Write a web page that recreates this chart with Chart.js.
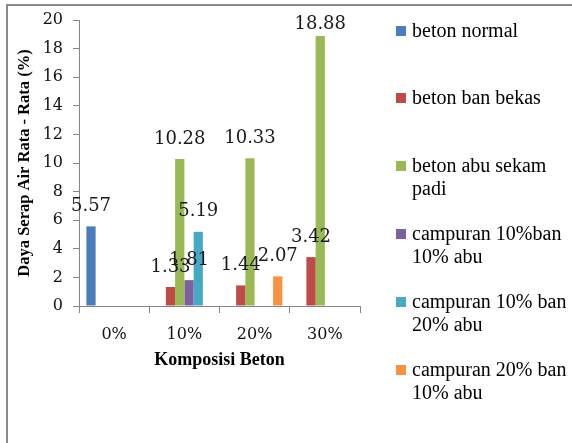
<!DOCTYPE html>
<html>
<head>
<meta charset="utf-8">
<script src="https://cdn.jsdelivr.net/npm/chart.js@4.4.0/dist/chart.umd.min.js"></script>
<style>
  html, body { margin: 0; padding: 0; background: #fff; overflow: hidden; }
  #wrap { position: relative; width: 572px; height: 443px; }
  #myChart { position: absolute; left: 0; top: 0; }
  #frame { position: absolute; left: 6px; top: 4px; width: 700px; height: 600px;
           border: 2px solid #8a8a8a; pointer-events: none; }
  #legend { position: absolute; left: 0; top: 0; width: 572px; height: 443px; }
  .item { position: absolute; left: 396px; font-family: "Liberation Serif", serif;
          font-size: 20px; line-height: 23px; color: #000; white-space: nowrap; }
  .box { position: absolute; left: 0; top: 7px; width: 10px; height: 10px; }
  .txt { position: absolute; left: 16px; top: 0; }
</style>
</head>
<body>
<div id="wrap">
  <canvas id="myChart" width="572" height="443"></canvas>
  <div id="legend"></div>
  <div id="frame"></div>
</div>
<script>
const categories = ['0%', '10%', '20%', '30%'];
const seriesNames = [
  ['beton normal'],
  ['beton ban bekas'],
  ['beton abu sekam', 'padi'],
  ['campuran 10%ban', '10% abu'],
  ['campuran 10% ban', '20% abu'],
  ['campuran 20% ban', '10% abu']
];
const betonNormal = [5.57, null, null, null];
const betonBanBekas = [null, 1.33, 1.44, 3.42];
const betonAbuSekam = [null, 10.28, 10.33, 18.88];
const campuran10Ban10Abu = [null, 1.81, null, null];
const campuran10Ban20Abu = [null, 5.19, null, null];
const campuran20Ban10Abu = [null, null, 2.07, null];
const colors = ['#4a7ebb', '#be4b48', '#98b954', '#7d60a0', '#46aac5', '#f69240'];

const values = [betonNormal, betonBanBekas, betonAbuSekam,
  campuran10Ban10Abu, campuran10Ban20Abu, campuran20Ban10Abu];

// value labels above the bars
const barLabels = {
  id: 'barLabels',
  afterDatasetsDraw(chart) {
    const c = chart.ctx;
    c.save();
    c.font = '18px "DejaVu Serif"';
    c.fillStyle = '#1a1a1a';
    c.textAlign = 'center';
    c.textBaseline = 'middle';
    chart.data.datasets.forEach((ds, i) => {
      chart.getDatasetMeta(i).data.forEach((bar, j) => {
        const v = ds.data[j];
        if (v === null) return;
        const y = Math.max(bar.y - 20, chart.chartArea.top + 4);
        c.fillText(v.toFixed(2), bar.x, y);
      });
    });
    c.restore();
  }
};

const axisGray = '#868686';
const ctx = document.querySelector('#myChart');
/* eslint-disable no-unused-vars */
const myChart = new Chart(ctx, {
  type: 'bar',
  data: {
    labels: categories,
    datasets: values.map((d, i) => ({
      label: seriesNames[i].join(' '),
      data: d,
      backgroundColor: colors[i],
      categoryPercentage: 0.79,
      barPercentage: 1.0
    }))
  },
  options: {
    responsive: false,
    animation: false,
    layout: { padding: { left: 0, top: 20, right: 212, bottom: 72 } },
    plugins: { legend: { display: false }, tooltip: { enabled: false } },
    scales: {
      x: {
        afterFit: (s) => { s.height = 65; },
        grid: { display: true, drawOnChartArea: false, offset: true, tickLength: 7, color: axisGray },
        border: { display: true, color: axisGray },
        ticks: { padding: 12, color: '#111', font: { family: 'DejaVu Serif', size: 16 } },
        title: { display: true, text: 'Komposisi Beton', color: '#000', padding: 0,
          font: { family: 'Liberation Serif', size: 18, weight: 'bold' } }
      },
      y: {
        min: 0, max: 20,
        afterFit: (s) => { s.width = 79; },
        grid: { display: true, drawOnChartArea: false, tickLength: 6, color: axisGray },
        border: { display: true, color: axisGray },
        ticks: { stepSize: 2, padding: 10, color: '#111', font: { family: 'DejaVu Serif', size: 16 } },
        title: { display: true, text: 'Daya Serap Air Rata - Rata (%)', color: '#000',
          padding: { top: 15, bottom: 0 },
          font: { family: 'Liberation Serif', size: 16.5, weight: 'bold' } }
      }
    }
  },
  plugins: [barLabels]
});

// legend on the right
const legend = document.querySelector('#legend');
seriesNames.forEach((lines, i) => {
  const item = document.createElement('div');
  item.className = 'item';
  item.style.top = (18.5 + i * 67.8) + 'px';
  const box = document.createElement('div');
  box.className = 'box';
  box.style.background = colors[i];
  const txt = document.createElement('div');
  txt.className = 'txt';
  txt.innerHTML = lines.join('<br>');
  item.appendChild(box);
  item.appendChild(txt);
  legend.appendChild(item);
});
</script>
</body>
</html>
